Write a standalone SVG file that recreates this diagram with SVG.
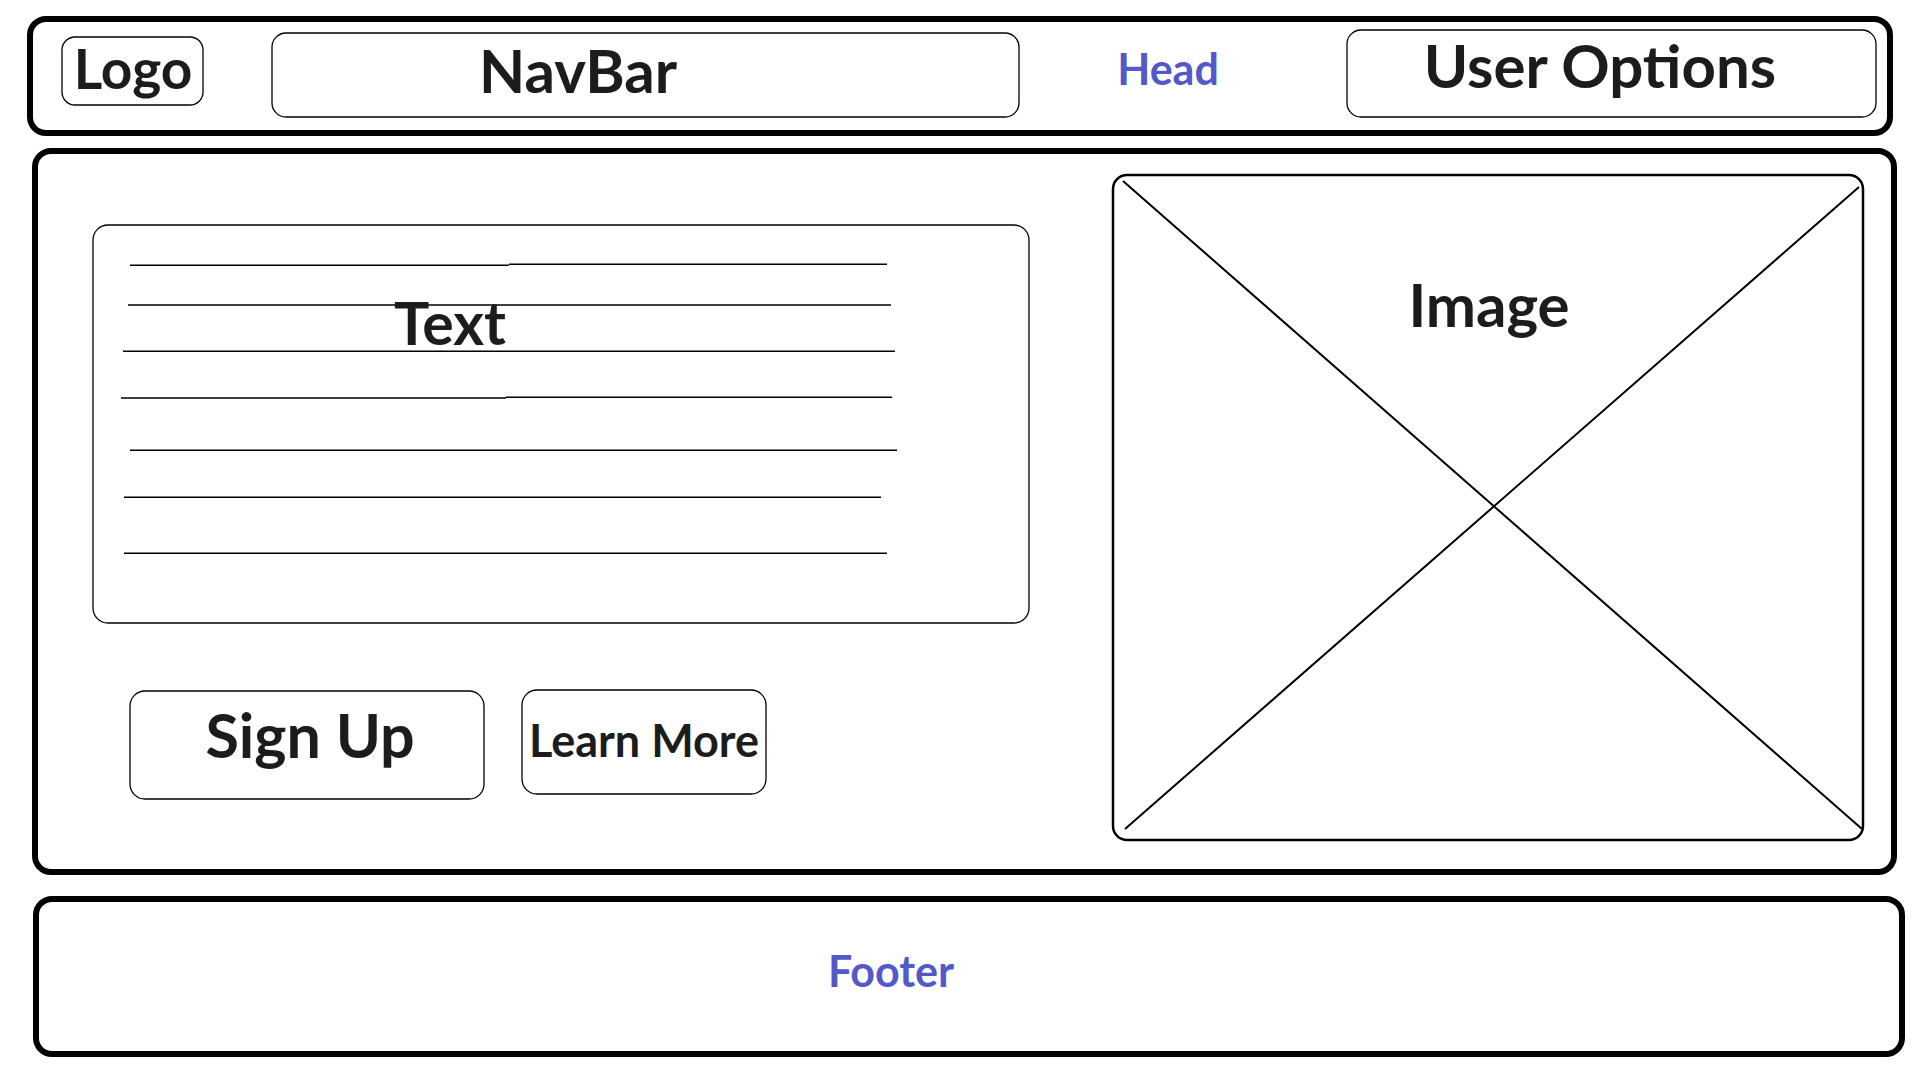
<svg xmlns="http://www.w3.org/2000/svg" width="1920" height="1080" viewBox="0 0 1920 1080">
<style>
.outer{fill:#fff;stroke:#000;stroke-width:6}
.box{fill:#fff;stroke:#000;stroke-width:1.3}
.img{fill:#fff;stroke:#000;stroke-width:2.5}
.ln{stroke:#000;stroke-width:1.5;fill:none}
.x{stroke:#000;stroke-width:2;fill:none}
.t{font-family:Lato,"Open Sans","Liberation Sans",sans-serif;font-weight:700;fill:#1c1c1c;text-anchor:middle}
.b{font-family:Lato,"Open Sans","Liberation Sans",sans-serif;font-weight:700;fill:#5459c9;text-anchor:middle}
</style>
<rect width="1920" height="1080" fill="#fff"/>
<g id="head">
<rect class="outer" x="30" y="19" width="1860" height="114" rx="16"/>
<text class="b" x="1168" y="85" font-size="43">Head</text>
</g>
<g id="logo">
<rect class="box" x="62" y="37" width="141" height="68" rx="13"/>
<text class="t" x="133" y="89" font-size="55">Logo</text>
</g>
<g id="navbar">
<rect class="box" x="272" y="33" width="747" height="84" rx="14"/>
<text class="t" x="578" y="93" font-size="60">NavBar</text>
</g>
<g id="user-options">
<rect class="box" x="1347" y="30" width="529" height="87" rx="14"/>
<text class="t" x="1600" y="88" font-size="60">User Options</text>
</g>
<g id="main">
<rect class="outer" x="35" y="151" width="1859" height="721" rx="16"/>
</g>
<g id="text-block">
<rect class="box" x="93" y="225" width="936" height="398" rx="15"/>
<path class="ln" d="M130 265.3H509M509 264.3H887M128 305H891M123 351.3H895M121 398H506M506 397.3H892M130 450.3H897M124 497.3H881M124 553.3H887"/>
<text class="t" x="450" y="345" font-size="59">Text</text>
</g>
<g id="image">
<rect class="img" x="1113" y="175" width="750" height="665" rx="14"/>
<path class="x" d="M1123 181L1862 829M1859 187L1125 829"/>
<text class="t" x="1489" y="327" font-size="60">Image</text>
</g>
<g id="sign-up">
<rect class="box" x="130" y="691" width="354" height="108" rx="15"/>
<text class="t" x="310" y="758" font-size="61">Sign Up</text>
</g>
<g id="learn-more">
<rect class="box" x="522" y="690" width="244" height="104" rx="15"/>
<text class="t" x="644" y="757" font-size="45">Learn More</text>
</g>
<g id="footer">
<rect class="outer" x="36" y="899" width="1866" height="155" rx="16"/>
<text class="b" x="891" y="987" font-size="43">Footer</text>
</g>
<g id="connectors"></g>
</svg>
